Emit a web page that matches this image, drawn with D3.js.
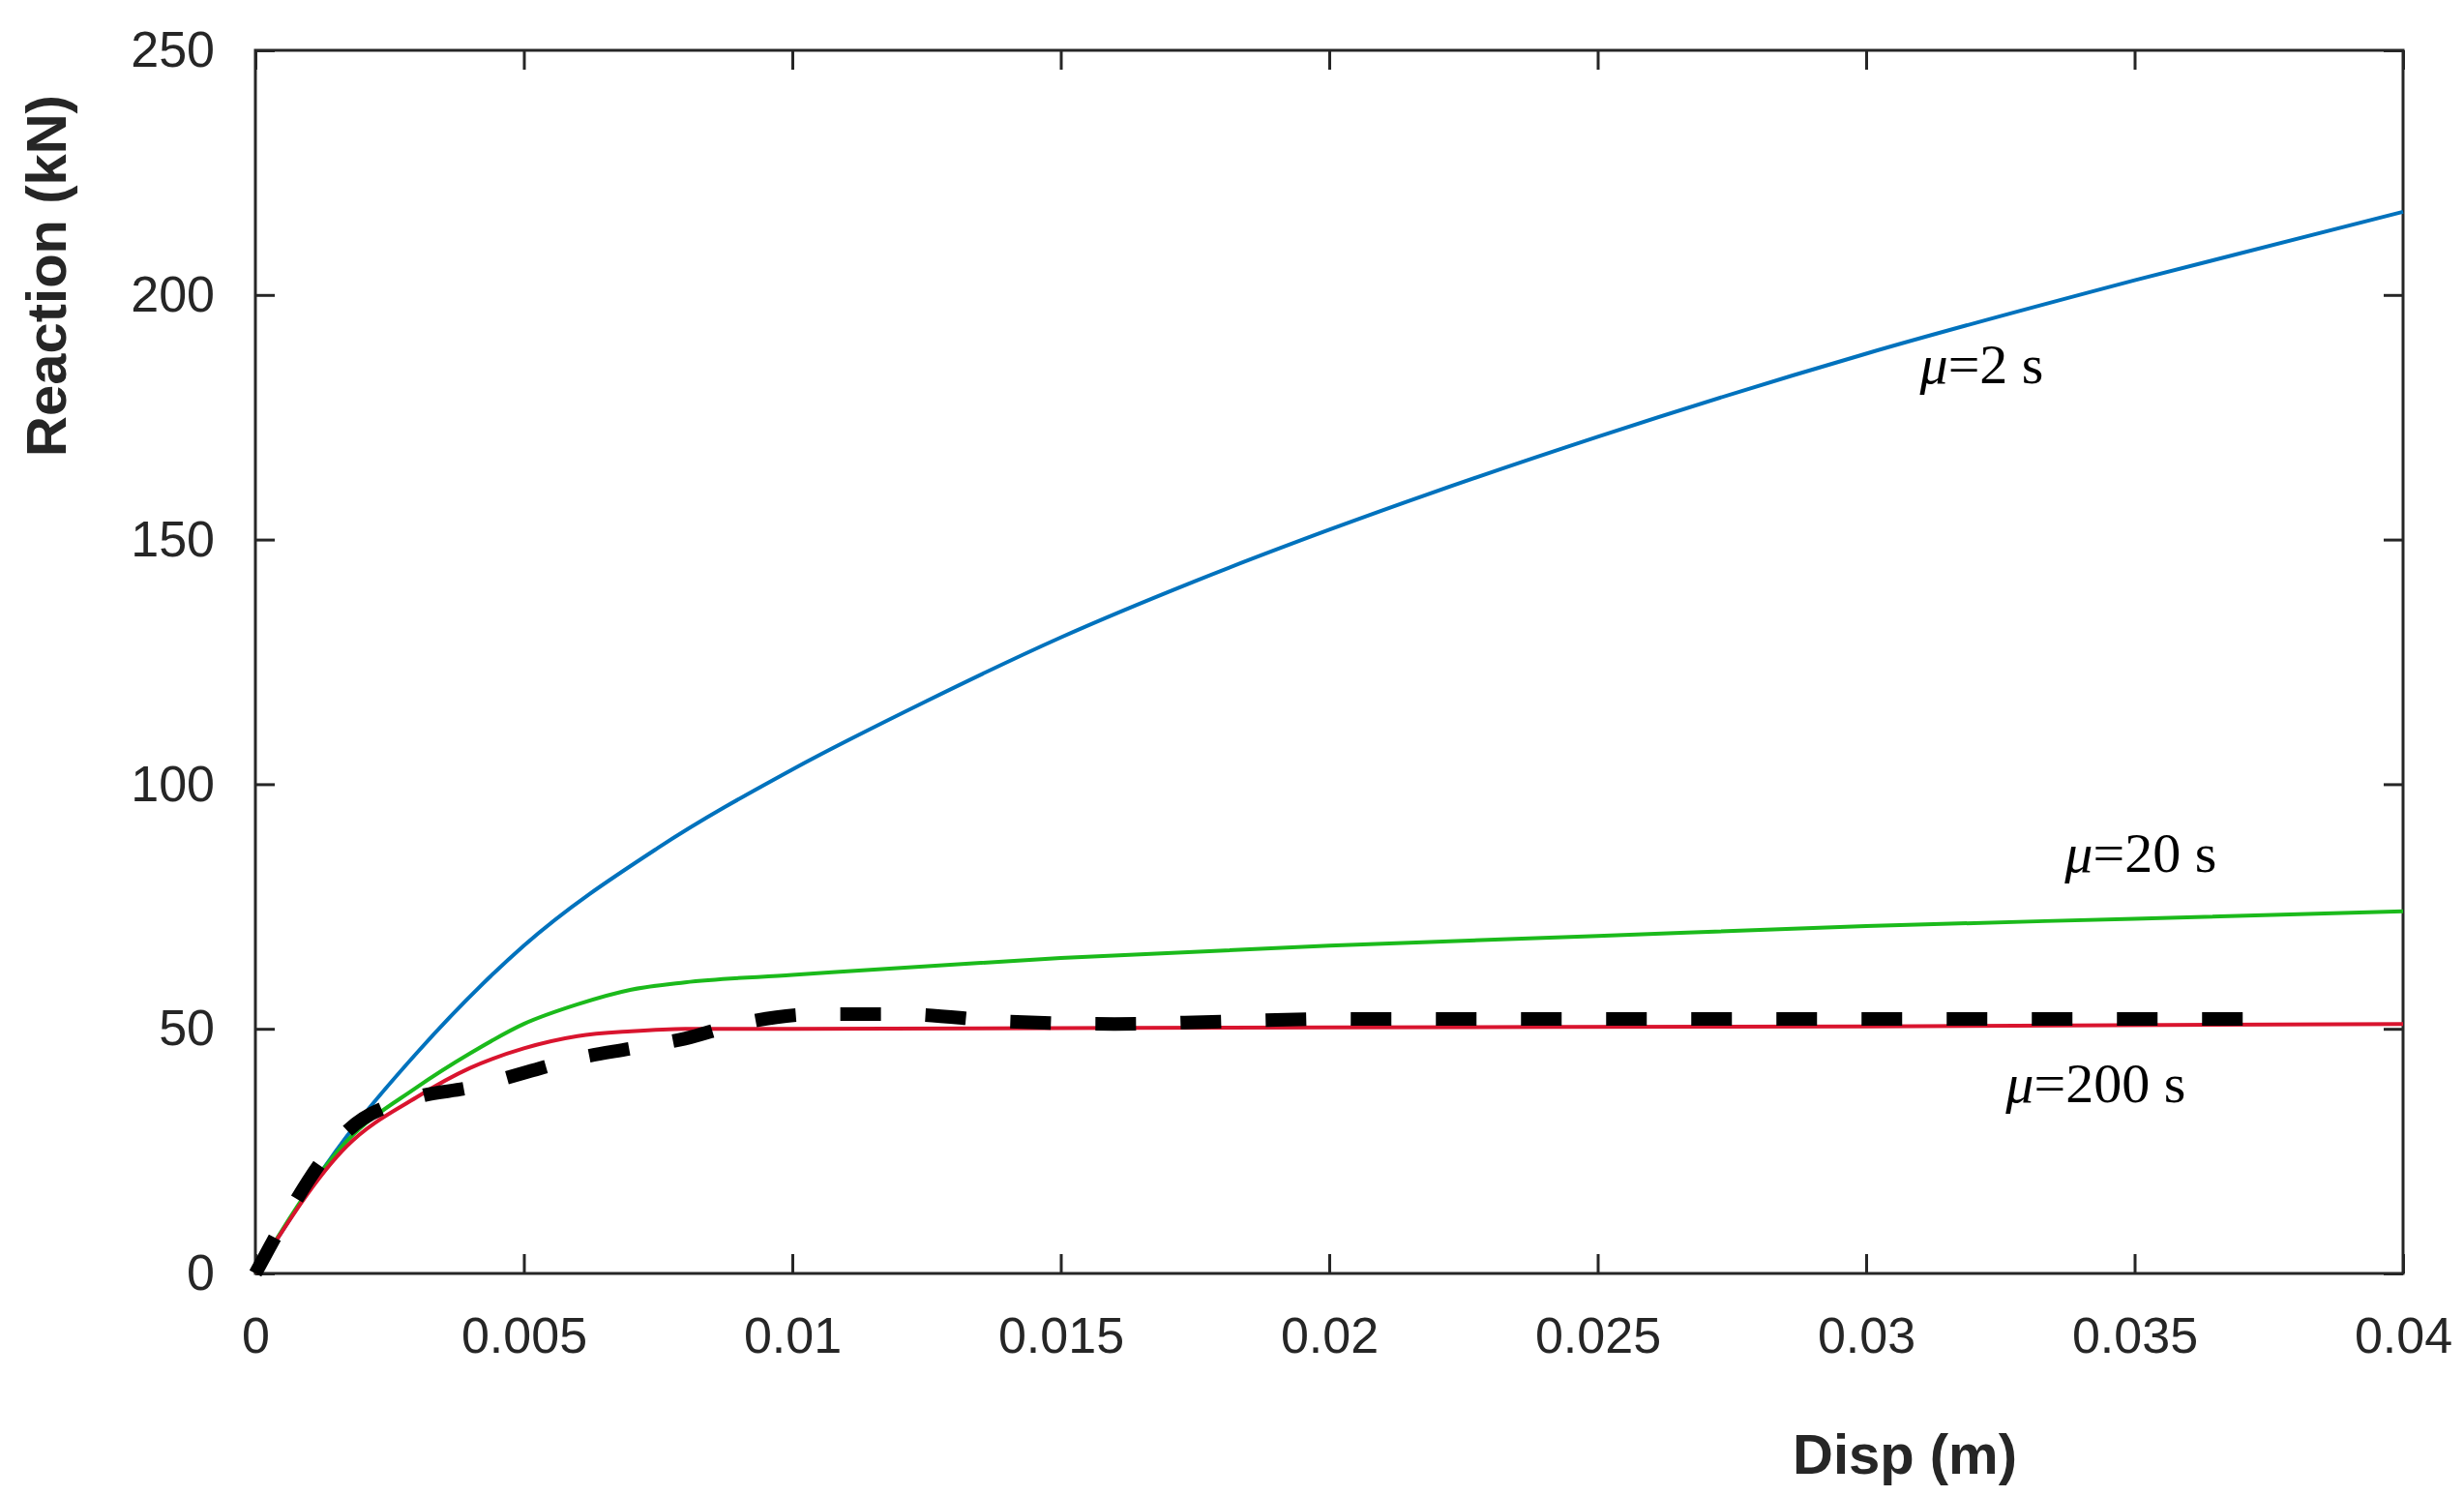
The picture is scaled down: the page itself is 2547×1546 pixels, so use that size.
<!DOCTYPE html>
<html><head><meta charset="utf-8">
<script src="https://cdn.jsdelivr.net/npm/d3@7"></script>
<style>body{margin:0;background:#fff}</style>
</head><body>
<svg id="chart" width="2547" height="1546"></svg>
<script>
// data: [disp (m), reaction (kN)]
const mu2 = [[0,0],[0.0017,28],[0.003,45],[0.005,67],[0.0075,87],[0.01,103],[0.0125,117],[0.015,130],[0.0175,141.5],[0.02,152],[0.025,171],[0.03,188],[0.035,203],[0.04,217]];
const mu20 = [[0,0],[0.0017,27],[0.003,38],[0.004,45],[0.005,51],[0.006,55],[0.007,58],[0.008,59.5],[0.01,61],[0.015,64.5],[0.02,67],[0.025,69],[0.03,71],[0.035,72.5],[0.04,74]];
const mu200 = [[0,0],[0.0017,26],[0.003,36],[0.004,42],[0.005,46],[0.006,48.5],[0.007,49.5],[0.008,50],[0.01,50],[0.02,50.3],[0.03,50.5],[0.04,51]];
const reference = [[0,0],[0.0017,29],[0.003,36],[0.004,38],[0.005,41],[0.006,44],[0.007,46],[0.008,48],[0.009,51],[0.0105,53],[0.012,53],[0.014,51.5],[0.016,51],[0.018,51.5],[0.02,52],[0.025,52],[0.03,52],[0.035,52],[0.0375,52]];
const xTicks = [0,0.005,0.01,0.015,0.02,0.025,0.03,0.035,0.04];
const yTicks = [0,50,100,150,200,250];
const labels = [
  {mu: "2", x: 0.031, y: 182},
  {mu: "20", x: 0.0337, y: 82},
  {mu: "200", x: 0.0326, y: 35}
];

const svg = d3.select("#chart");
const mLeft = 264, mRight = 2484, mTop = 52, mBottom = 1316;
const x = d3.scaleLinear().domain([0, 0.04]).range([mLeft, mRight]);
const y = d3.scaleLinear().domain([0, 250]).range([mBottom, mTop]);
const ink = "#262626";

const line = d3.line().x(d => x(d[0])).y(d => y(d[1])).curve(d3.curveMonotoneX);

function drawAxis(axis, tr) {
  const g = svg.append("g").attr("transform", tr).call(axis);
  g.select(".domain").remove();
  g.selectAll("line").attr("stroke", ink).attr("stroke-width", 3);
  g.selectAll("text").attr("fill", ink).style("font-family", "Liberation Sans, Arial, sans-serif").style("font-size", "52px");
  return g;
}
// ticks pointing inward, on all four sides
drawAxis(d3.axisBottom(x).tickValues(xTicks).tickSize(-20).tickPadding(45).tickFormat(d3.format("")), `translate(0,${mBottom})`);
drawAxis(d3.axisTop(x).tickValues(xTicks).tickSize(-20).tickFormat(""), `translate(0,${mTop})`);
drawAxis(d3.axisLeft(y).tickValues(yTicks).tickSize(-20).tickPadding(42), `translate(${mLeft},0)`);
drawAxis(d3.axisRight(y).tickValues(yTicks).tickSize(-20).tickFormat(""), `translate(${mRight},0)`);

svg.append("rect").attr("x", mLeft).attr("y", mTop).attr("width", mRight - mLeft).attr("height", mBottom - mTop)
  .attr("fill", "none").attr("stroke", ink).attr("stroke-width", 3);

svg.append("path").datum(mu2).attr("d", line).attr("fill", "none").attr("stroke", "#0072BD").attr("stroke-width", 4);
svg.append("path").datum(mu20).attr("d", line).attr("fill", "none").attr("stroke", "#1BBA1B").attr("stroke-width", 4);
svg.append("path").datum(mu200).attr("d", line).attr("fill", "none").attr("stroke", "#D9142E").attr("stroke-width", 4);
svg.append("path").datum(reference).attr("d", line).attr("fill", "none").attr("stroke", "#000")
  .attr("stroke-width", 14).attr("stroke-dasharray", "42,46");

labels.forEach(l => {
  const t = svg.append("text").attr("x", x(l.x)).attr("y", y(l.y))
    .style("font-family", "Liberation Serif, Times New Roman, serif").style("font-size", "58px").attr("fill", "#000");
  t.append("tspan").style("font-style", "italic").text("μ");
  t.append("tspan").text("=" + l.mu + " s");
});

svg.append("text").attr("x", 1969).attr("y", 1523).attr("text-anchor", "middle")
  .style("font-family", "Liberation Sans, Arial, sans-serif").style("font-size", "58px").style("font-weight", "bold")
  .attr("fill", ink).text("Disp (m)");
svg.append("text").attr("transform", "translate(68,285) rotate(-90)").attr("text-anchor", "middle")
  .style("font-family", "Liberation Sans, Arial, sans-serif").style("font-size", "58px").style("font-weight", "bold")
  .attr("fill", ink).text("Reaction (kN)");
</script>
</body></html>
